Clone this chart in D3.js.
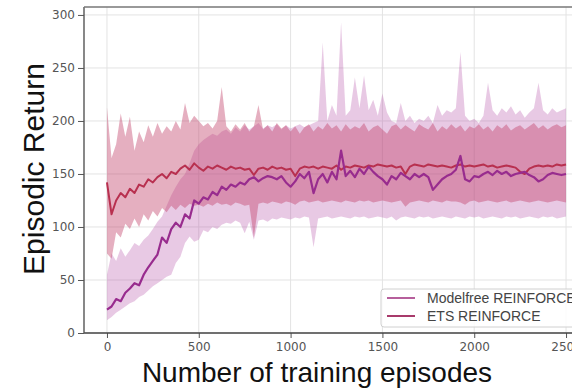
<!DOCTYPE html>
<html>
<head>
<meta charset="utf-8">
<script src="https://cdn.jsdelivr.net/npm/d3@7"></script>
<style>
  html, body { margin: 0; padding: 0; background: #fff; }
  svg { display: block; }
</style>
</head>
<body>
<div id="chart"></div>
<script>
// episodes sampled every 25 steps, 0..2500
const step = 25;

// ETS REINFORCE: mean and shaded band
const etsMean = [142,112,125,132,128,136,132,140,138,145,142,147,150,146,152,150,155,158,154,160,
  156,153,157,155,158,156,154,157,155,156,154,155,149,155,156,154,157,155,156,154,
  155,148,155,157,156,157,155,157,156,155,158,154,157,156,158,157,156,158,157,159,
  158,157,158,156,157,150,157,159,158,157,159,158,157,158,157,156,158,159,157,158,
  157,158,159,157,158,156,157,158,157,156,152,150,155,157,158,157,158,157,159,158,159];
const etsHi = [213,165,178,207,185,204,172,190,180,196,185,198,188,195,190,200,192,217,198,205,
  200,195,198,193,200,232,195,190,197,192,198,190,195,215,192,196,190,198,193,196,
  190,195,188,194,197,190,195,192,198,193,196,190,197,192,195,193,198,190,194,196,
  192,188,195,197,192,196,193,190,197,194,192,198,190,195,192,197,193,196,190,195,
  193,197,192,195,190,196,193,197,191,194,196,192,195,198,193,196,192,195,197,194,196];
const etsLo = [75,70,95,90,103,98,108,100,112,106,115,110,118,114,120,116,121,118,122,120,
  121,119,122,120,123,121,122,120,123,122,120,121,90,122,123,122,124,123,122,124,
  123,121,124,125,123,124,125,123,124,125,124,123,125,124,123,125,124,125,123,124,
  125,124,123,124,125,119,123,124,125,124,123,125,124,123,125,124,124,123,121,124,
  125,123,124,125,124,123,124,125,123,124,125,124,123,124,125,124,123,124,125,124,123];

// Modelfree REINFORCE: mean and shaded band
const mfMean = [22,25,32,30,38,42,47,45,55,62,68,74,90,85,98,104,100,112,108,125,
  122,128,126,133,130,138,135,140,138,142,140,145,147,143,146,148,147,145,148,142,
  138,143,150,146,152,132,145,150,142,152,145,172,148,153,147,155,150,157,152,148,
  145,140,148,145,151,148,145,150,147,150,147,135,140,145,148,150,154,167,145,143,
  148,147,150,152,149,153,150,152,148,150,151,152,149,147,143,145,149,151,150,149,150];
const mfHi = [55,75,68,80,72,78,85,82,88,92,98,105,110,120,130,138,145,150,160,172,
  178,182,185,188,186,190,192,188,194,190,196,192,195,198,193,196,194,197,192,196,
  193,195,197,194,196,198,200,274,200,215,205,293,205,210,241,212,243,210,220,205,
  226,208,200,198,217,200,205,198,202,200,205,198,215,205,210,208,212,265,205,200,
  202,198,205,236,210,205,212,208,214,206,210,203,208,212,236,210,206,212,208,210,212];
const mfLo = [12,15,19,22,25,28,30,34,36,40,44,47,50,53,55,66,72,85,91,86,
  88,97,95,100,98,102,104,103,106,104,94,105,88,106,107,105,108,107,109,108,
  107,109,108,110,109,81,108,109,110,108,109,110,109,108,110,109,110,108,109,110,
  109,108,110,106,109,110,109,108,110,109,110,108,109,110,109,108,110,109,108,110,
  109,110,108,109,110,109,108,110,109,110,108,109,110,109,108,110,109,110,108,109,110];

const xTicks = [0, 500, 1000, 1500, 2000, 2500];
const yTicks = [0, 50, 100, 150, 200, 250, 300];

const seriesNames = ["Modelfree REINFORCE", "ETS REINFORCE"];

const W = 572, H = 391;

const svg = d3.select("#chart").append("svg")
  .attr("width", W).attr("height", H);

// axes box (the right side runs past the picture edge)
const x = d3.scaleLinear().domain([-125, 2625]).range([84, 589]);
const y = d3.scaleLinear().domain([0, 307.5]).range([333, 7]);

const toPoints = (mean, lo, hi) => mean.map((m, i) => ({ ep: i * step, m: m, lo: lo[i], hi: hi[i] }));
const ets = toPoints(etsMean, etsLo, etsHi);
const mf = toPoints(mfMean, mfLo, mfHi);

// grid
svg.append("g").selectAll("line.gx").data(xTicks).enter().append("line")
  .attr("x1", d => x(d)).attr("x2", d => x(d))
  .attr("y1", y(307.5)).attr("y2", y(0))
  .attr("stroke", "#e3e3e3").attr("stroke-width", 1);
svg.append("g").selectAll("line.gy").data(yTicks).enter().append("line")
  .attr("x1", x(-125)).attr("x2", W)
  .attr("y1", d => y(d)).attr("y2", d => y(d))
  .attr("stroke", "#e3e3e3").attr("stroke-width", 1);

svg.append("clipPath").attr("id", "plotclip").append("rect")
  .attr("x", x(-125)).attr("y", y(307.5))
  .attr("width", x(2625) - x(-125)).attr("height", y(0) - y(307.5));

const plot = svg.append("g").attr("clip-path", "url(#plotclip)");

const band = d3.area().x(d => x(d.ep)).y0(d => y(d.lo)).y1(d => y(d.hi));
const line = d3.line().x(d => x(d.ep)).y(d => y(d.m));

plot.append("path").datum(mf).attr("d", band)
  .attr("fill", "#b24ca5").attr("fill-opacity", 0.3);
plot.append("path").datum(ets).attr("d", band)
  .attr("fill", "#c2406a").attr("fill-opacity", 0.42);

plot.append("path").datum(ets).attr("d", line)
  .attr("fill", "none").attr("stroke", "#b8304f").attr("stroke-width", 2)
  .attr("stroke-linejoin", "round");
plot.append("path").datum(mf).attr("d", line)
  .attr("fill", "none").attr("stroke", "#982c8e").attr("stroke-width", 2.2)
  .attr("stroke-linejoin", "round");

// axes
const xAxis = svg.append("g").attr("transform", `translate(0,${y(0)})`)
  .call(d3.axisBottom(x).tickValues(xTicks).tickSize(5).tickPadding(4).tickFormat(d3.format("d")));
const yAxis = svg.append("g").attr("transform", `translate(${x(-125)},0)`)
  .call(d3.axisLeft(y).tickValues(yTicks).tickSize(6).tickPadding(3).tickFormat(d3.format("d")));

[xAxis, yAxis].forEach(a => {
  a.select(".domain").remove();
  a.selectAll(".tick line").attr("stroke", "#555");
  a.selectAll(".tick text")
    .attr("fill", "#555")
    .style("font-family", "'DejaVu Sans', sans-serif")
    .style("font-size", "12px");
});

// spines
svg.append("line").attr("x1", x(-125)).attr("x2", W).attr("y1", y(0)).attr("y2", y(0))
  .attr("stroke", "#444").attr("stroke-width", 1.4);
svg.append("line").attr("x1", x(-125)).attr("x2", x(-125)).attr("y1", y(0)).attr("y2", y(307.5))
  .attr("stroke", "#555").attr("stroke-width", 1.4);
svg.append("line").attr("x1", x(-125)).attr("x2", W).attr("y1", y(307.5)).attr("y2", y(307.5))
  .attr("stroke", "#777").attr("stroke-width", 1.4);

// axis titles
svg.append("text")
  .attr("transform", "translate(44,169) rotate(-90)")
  .attr("text-anchor", "middle")
  .style("font-family", "'Liberation Sans', Arial, sans-serif")
  .style("font-size", "30px")
  .attr("fill", "#111")
  .text("Episodic Return");

svg.append("text")
  .attr("x", 317).attr("y", 382)
  .attr("text-anchor", "middle")
  .style("font-family", "'Liberation Sans', Arial, sans-serif")
  .style("font-size", "28px")
  .attr("fill", "#111")
  .text("Number of training episodes");

// legend
const legendColors = ["#b65f9c", "#a83a6b"];
const lg = svg.append("g").attr("transform", "translate(381,289)");
lg.append("rect").attr("width", 200).attr("height", 38).attr("rx", 3)
  .attr("fill", "#fff").attr("fill-opacity", 0.85)
  .attr("stroke", "#d0d0d0").attr("stroke-width", 1);
seriesNames.forEach((name, i) => {
  const yy = 9 + i * 18;
  lg.append("line").attr("x1", 6).attr("x2", 34).attr("y1", yy).attr("y2", yy)
    .attr("stroke", legendColors[i]).attr("stroke-width", 2);
  lg.append("text").attr("x", 46).attr("y", yy + 5)
    .style("font-family", "'Liberation Sans', Arial, sans-serif")
    .style("font-size", "14px")
    .attr("fill", "#444")
    .text(name);
});
</script>
</body>
</html>
